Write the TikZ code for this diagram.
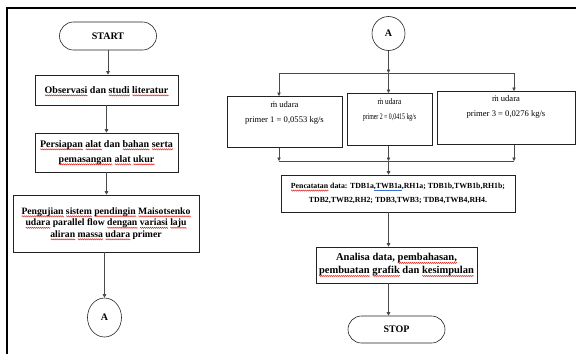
\documentclass[tikz,border=0pt]{standalone}
\usepackage{fontspec}
\setmainfont{Liberation Serif}
\usepackage{graphicx}
\usetikzlibrary{arrows.meta,shapes.geometric,shapes.misc,calc,decorations.pathmorphing}
\definecolor{garis}{HTML}{4A4A4A}
\definecolor{tepi}{HTML}{222222}
\definecolor{ejaanred}{HTML}{E0201B}
\definecolor{tatabiru}{HTML}{3B6FD8}
\newdimen\ejaanlebar
\newcommand\ejaan[1]{\setbox0\hbox{#1}\ejaanlebar=\wd0\relax\leavevmode\rlap{\raisebox{-2.8pt}[0pt][0pt]{\tikz[x=1pt,y=1pt]\draw[ejaanred,line width=0.45pt,decorate,decoration={zigzag,amplitude=0.6pt,segment length=2pt}] (0,0) -- (\the\ejaanlebar,0);}}\copy0\relax}
\newcommand\tata[1]{\setbox0\hbox{#1}\leavevmode\rlap{\copy0}\textcolor{tatabiru}{\lower2pt\hbox to\wd0{\leaders\hrule height0.4pt\hfil}}}

\begin{document}
\begin{tikzpicture}[x=1pt,y=-1pt,
    box/.style={rectangle,draw=tepi,line width=0.6pt,inner sep=0pt,align=center,font=\bfseries\fontsize{10}{12}\selectfont},
    term/.style={rounded rectangle,draw=tepi,line width=0.6pt,inner sep=0pt,minimum width=97pt,minimum height=28pt,font=\bfseries\fontsize{10}{12}\selectfont},
    conn/.style={ellipse,draw=tepi,line width=0.6pt,inner sep=0pt,font=\bfseries\fontsize{10}{12}\selectfont},
    mbox/.style={rectangle,draw=tepi,line width=0.6pt,anchor=north,inner xsep=2pt,inner ysep=4pt,align=center,text height=22pt,text depth=21pt,font=\fontsize{8.6}{15}\selectfont},
    arr/.style={-{Triangle[length=3.5pt,width=3.5pt]},garis,line width=0.7pt},
    garisbagi/.style={garis,line width=0.7pt},
]
\useasboundingbox (0,0) rectangle (576,354);
\draw[line width=2.2pt] (7,354) -- (7,8) -- (576,8);

\node[term] (start) at (108,36) {START};
\node[box,minimum width=143pt,minimum height=30pt] (obs) at (106.5,90) {\ejaan{Observasi} dan \ejaan{studi} \ejaan{literatur}};
\node[box,minimum width=143pt,minimum height=39pt,font=\bfseries\fontsize{10}{15}\selectfont] (siap) at (106.5,152.5) {\ejaan{Persiapan} \ejaan{alat} dan \ejaan{bahan} \ejaan{serta}\\\ejaan{pemasangan} \ejaan{alat} \ejaan{ukur}};
\node[box,minimum width=186pt,minimum height=57pt,font=\bfseries\fontsize{9.7}{11.5}\selectfont] (uji) at (106,223.5) {\ejaan{Pengujian} \ejaan{sistem} \ejaan{pendingin} \ejaan{Maisotsenko}\\\ejaan{udara} parallel flow \ejaan{dengan} \ejaan{variasi} \ejaan{laju}\\\ejaan{aliran} \ejaan{massa} \ejaan{udara} primer};
\node[conn,minimum width=34pt,minimum height=39pt] (a1) at (104.5,317.5) {A};

\node[conn,minimum width=33pt,minimum height=34pt] (a2) at (388.5,33.5) {A};
\coordinate (bagi) at (388.5,73);
\coordinate (bagi1) at (279,73);
\coordinate (bagi3) at (514,73);
\node[mbox,minimum width=115pt] (m1) at (284.5,96) {ṁ udara\\primer 1 = 0,0553 kg/s};
\node[mbox,minimum width=85pt,text depth=22pt] (m2) at (389.5,93) {\scalebox{0.85}[1]{ṁ udara}\\\scalebox{0.68}[1]{primer 2 = 0,0415 kg/s}};
\node[mbox,minimum width=138pt,text height=21pt,text depth=24pt] (m3) at (506,91) {ṁ udara\\primer 3 = 0,0276 kg/s};
\coordinate (gab) at (388.5,161);
\coordinate (gab1) at (279,161);
\coordinate (gab3) at (514,161);
\node[box,minimum width=234pt,minimum height=37pt,font=\bfseries\fontsize{7.8}{14}\selectfont] (catat) at (398,193.5) {\ejaan{Pencatatan} data: TDB1a\tata{,TWB1a},RH1a; TDB1b,TWB1b,RH1b;\\TDB2,TWB2,RH2; TDB3,TWB3; TDB4,TWB4,RH4.};
\node[box,minimum width=161pt,minimum height=36pt,font=\bfseries\fontsize{10.5}{13}\selectfont] (analisa) at (396.5,265) {Analisa data, \ejaan{pembahasan,}\\\ejaan{pembuatan} \ejaan{grafik} dan \ejaan{kesimpulan}};
\node[term,minimum height=27pt] (stop) at (396.5,329.5) {STOP};

\draw[arr] (start.south) -- (start.south |- obs.north);
\draw[arr] (obs) -- (siap);
\draw[arr] (siap.south) -- (siap.south |- uji.north);
\draw[arr] (uji.south -| a1) -- (a1);

\draw[arr] (a2) -- (bagi);
\draw[garisbagi] (bagi1) -- (bagi3);
\draw[arr] (bagi1) -- (bagi1 |- m1.north);
\draw[arr] (bagi) -- (bagi |- m2.north);
\draw[arr] (bagi3) -- (bagi3 |- m3.north);
\draw[arr] (m1.south -| gab1) -- (gab1);
\draw[arr] (m2.south -| gab) -- (gab);
\draw[arr] (m3.south -| gab3) -- (gab3);
\draw[garisbagi] (gab1) -- (gab3);
\draw[arr] (gab) -- (gab |- catat.north);
\draw[arr] (catat.south -| gab) -- (analisa.north -| gab);
\draw[arr] (analisa.south -| gab) -- (stop.north -| gab);
\end{tikzpicture}
\end{document}
